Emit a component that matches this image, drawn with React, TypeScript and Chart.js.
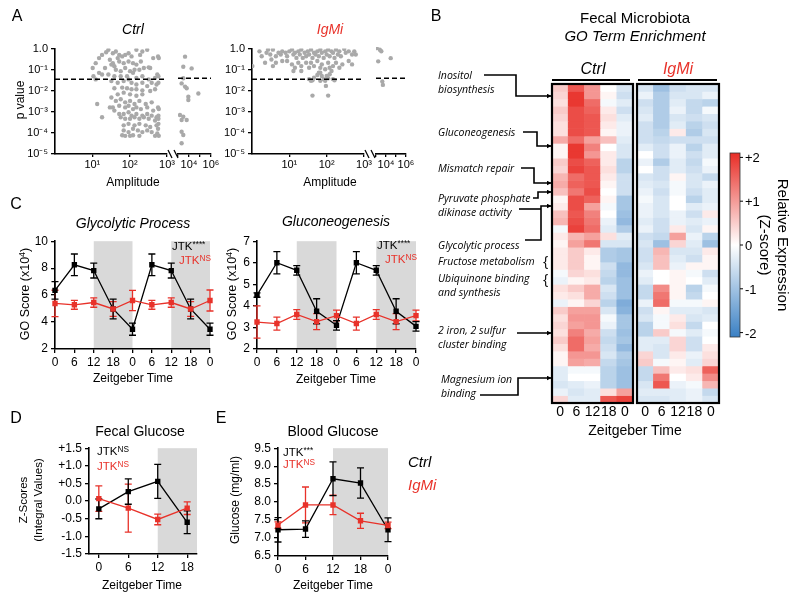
import React, { useEffect, useRef } from 'react';
import { Chart, registerables } from 'chart.js';

Chart.register(...registerables);

const FONT = '"Liberation Sans", Arial, Helvetica, sans-serif';
const ANNOT_FONT = '"Open Sans", "DejaVu Sans", sans-serif';
const RED = '#e8322a';
const BLACK = '#000000';
const DOT = '#a9a9a9';
const SHADE = '#d9d9d9';

// ---------------- Panel A: JTK amplitude vs p value (log10 units) ----------------
const pThreshold = 0.035;
const ampTicksL = [10, 100, 1000];
const ampLabelsL = ['10¹', '10²', '10³'];
const ampTicksR = [1e3, 1e4, 1e5, 1e6];
const ampLabelsR = ['', '10⁴', '', '10⁶'];
const pTicks = [1e-5, 1e-4, 1e-3, 1e-2, 1e-1, 1];
const pLabels = ['10⁻⁵', '10⁻⁴', '10⁻³', '10⁻²', '10⁻¹', '1.0'];

// [log10 amplitude, log10 p]
const ctrlPts: number[][] = [
  [1.37,-0.17],[1.43,-0.06],[1.55,-0.22],[1.63,-0.14],[1.72,-0.30],[1.68,-0.45],[1.80,-0.37],[1.88,-0.30],[1.97,-0.22],[2.05,-0.37],
  [2.18,-0.06],[2.28,-0.30],[2.34,-0.14],[2.47,-0.06],[2.63,-0.45],[2.76,-0.37],[2.78,-0.45],[1.26,-0.30],[1.18,-0.45],[1.09,-0.69],
  [1.47,-0.53],[1.55,-0.69],[1.59,-0.84],[1.72,-0.61],[1.84,-0.69],[1.97,-0.61],[2.09,-0.69],[2.18,-0.76],[2.30,-0.61],[2.38,-0.92],
  [2.51,-0.89],[2.55,-0.92],[3.64,-0.45],[3.48,-0.92],[4.24,-1.00],[1.01,-0.92],[1.34,-0.92],[1.51,-0.76],[1.63,-1.00],[1.76,-1.07],
  [1.88,-0.92],[2.01,-1.07],[2.13,-1.00],[2.26,-1.00],[1.18,-1.15],[1.26,-1.23],[1.43,-1.23],[1.59,-1.31],[1.76,-1.31],[1.93,-1.31],
  [2.09,-1.15],[2.18,-1.39],[2.34,-1.31],[2.51,-1.46],[2.68,-1.39],[2.77,-1.31],[2.74,-1.23],[1.09,-1.46],[3.48,-1.46],[1.03,-1.31],
  [1.51,-1.54],[1.68,-1.62],[1.84,-1.54],[1.97,-1.46],[2.05,-1.62],[2.18,-1.70],[2.34,-1.62],[2.47,-1.78],[2.59,-1.62],[2.72,-1.70],
  [2.77,-1.62],[3.64,-1.85],[3.79,-1.93],[3.33,-1.70],[1.59,-1.88],[1.80,-1.85],[1.93,-1.88],[2.05,-1.93],[2.18,-1.93],[2.34,-1.98],
  [2.55,-2.01],[2.68,-1.93],[1.68,-2.17],[1.84,-2.09],[2.01,-2.17],[2.18,-2.24],[2.34,-2.17],[4.85,-2.17],[3.94,-2.32],
  [1.51,-2.32],[1.63,-2.48],[1.76,-2.40],[1.88,-2.55],[2.01,-2.48],[2.13,-2.63],[2.26,-2.48],[2.43,-2.63],[2.59,-2.55],[1.55,-2.79],
  [1.72,-2.71],[1.88,-2.79],[1.97,-2.71],[2.09,-2.87],[2.18,-2.79],[2.30,-2.87],[2.47,-2.79],[2.63,-2.94],[2.76,-2.79],[1.13,-2.63],
  [1.47,-2.79],[1.26,-3.26],[1.59,-2.94],[1.72,-3.10],[1.84,-3.10],[1.97,-3.02],[2.05,-3.18],[2.18,-3.10],[2.34,-3.18],[2.47,-3.10],
  [2.59,-3.18],[2.72,-3.26],[2.77,-3.18],[3.18,-3.18],[3.48,-3.26],[3.94,-2.48],[2.78,-2.87],
  [1.76,-3.26],[1.88,-3.33],[2.01,-3.33],[2.13,-3.26],[2.26,-3.33],[2.38,-3.26],[2.51,-3.33],[2.68,-3.41],[2.77,-3.33],[1.84,-3.64],
  [1.97,-3.57],[2.13,-3.64],[2.26,-3.57],[2.43,-3.64],[2.55,-3.72],[2.72,-3.64],[2.77,-3.57],[3.33,-3.41],[3.79,-3.41],[1.84,-3.88],
  [1.97,-3.96],[2.09,-3.80],[2.22,-3.88],[2.34,-3.96],[2.47,-3.88],[2.59,-3.96],[2.76,-3.80],[3.33,-3.96],[3.48,-4.11],[1.80,-4.11],
  [1.88,-4.14],[2.01,-4.14],[2.09,-4.11],[2.26,-4.14],[2.68,-4.14],[2.78,-4.14],[2.74,-4.03],[3.33,-4.50],
];

const igmiPts: number[][] = [
  [0.01,-0.83],[0.20,-0.13],[0.26,-0.36],[0.35,-0.67],[0.39,-0.20],[0.43,-0.05],[0.49,-0.28],[0.52,-0.52],[0.56,-0.05],[0.64,-0.36],
  [0.71,-0.20],[0.77,-0.28],[0.81,-0.13],[0.90,-0.20],[0.94,-0.36],[1.00,-0.13],[1.07,-0.05],[1.11,-0.28],[1.15,-0.20],[1.19,-0.44],
  [1.24,-0.13],[1.28,-0.28],[1.32,-0.05],[1.36,-0.44],[1.41,-0.20],[1.45,-0.36],[1.49,-0.13],[1.53,-0.28],[1.58,-0.05],[1.62,-0.44],
  [1.66,-0.20],[1.70,-0.28],[1.75,-0.13],[1.79,-0.36],[1.83,-0.05],[1.87,-0.20],[1.92,-0.44],[1.96,-0.13],[2.00,-0.28],[2.04,-0.05],
  [2.08,-0.36],[2.13,-0.13],[2.17,-0.20],[2.21,-0.44],[2.25,-0.05],[2.30,-0.28],[2.34,-0.13],[2.38,-0.36],[2.47,-0.02],[2.51,-0.20],
  [2.59,-0.13],[2.68,-0.28],[2.74,-0.13],[2.78,-0.28],[3.06,-0.05],[3.38,-0.13],[3.53,-0.20],[4.47,-0.52],[3.22,-0.67],
  [0.94,-0.59],[1.07,-0.75],[1.15,-0.91],[1.24,-0.67],[1.32,-0.83],[1.45,-0.67],[1.53,-0.91],[1.58,-0.67],[1.66,-0.83],[1.75,-0.59],
  [1.83,-0.91],[1.87,-0.75],[1.96,-0.98],[2.04,-0.67],[2.08,-0.91],[2.17,-0.83],[2.25,-0.67],[2.34,-0.91],[2.42,-0.75],[2.59,-0.59],
  [2.68,-0.75],[1.11,-1.06],[1.32,-1.06],[1.83,-1.14],[2.13,-1.06],[0.81,-0.59],[0.64,-0.67],[0.56,-0.83],
  [1.53,-1.45],[1.62,-1.50],[1.66,-1.38],[1.75,-1.25],[1.79,-1.14],[1.87,-1.30],[1.92,-1.45],[2.00,-1.30],[2.04,-1.41],[2.08,-1.22],
  [2.17,-1.45],[2.21,-1.50],[1.96,-1.53],[1.83,-1.53],[1.58,-1.53],
  [3.63,-1.61],[3.69,-1.77],[1.98,-1.77],[1.62,-2.23],[2.04,-2.23],
];

// ---------------- Panel B: heatmap (Z-scores) ----------------
const heatCols = ['0', '6', '12', '18', '0'];
const ctrlZ: number[][] = [
  [0.5,1.6,1.0,0.0,-0.4],[0.4,1.9,1.0,0.1,-0.5],[0.3,1.9,1.4,-0.1,-0.3],[0.5,1.7,1.5,0.2,-0.5],[0.4,1.7,1.6,0.3,-0.3],
  [0.3,1.7,1.6,0.2,-0.2],[0.3,1.7,1.6,0.1,-0.2],[0.8,1.4,0.9,0.6,-0.3],[0.1,1.9,1.2,0.0,-0.4],[0.1,1.9,1.0,0.2,-0.4],
  [0.5,1.7,1.5,0.2,-0.7],[0.4,1.8,1.6,0.3,-0.7],[0.7,1.4,1.6,0.2,-0.5],[0.8,1.5,1.6,0.1,-0.5],[0.6,1.3,1.7,0.0,-0.5],
  [0.1,1.7,1.5,0.1,-0.9],[0.2,1.7,0.9,-0.1,-0.9],[0.6,1.6,1.2,0.0,-1.0],[0.7,1.7,1.3,-0.2,-1.1],[-0.1,1.8,1.4,-0.3,-0.8],
  [0.2,0.7,0.9,0.3,-0.3],[0.1,0.9,1.3,-0.4,-0.4],[0.2,0.5,0.2,-0.8,-0.9],[0.2,0.5,0.1,-0.8,-0.9],[0.2,0.5,0.1,-0.5,-1.1],
  [-0.1,0.4,0.3,-0.6,-1.1],[-0.2,0.1,0.2,-0.7,-1.0],[0.3,0.5,0.8,-0.4,-1.0],[0.2,0.3,0.8,-0.5,-1.0],[-0.2,0.1,0.4,-0.7,-1.3],
  [0.5,0.9,0.9,-0.4,-1.2],[0.3,1.0,1.0,-0.1,-0.9],[0.4,0.9,1.0,-0.2,-0.9],[0.3,1.2,0.8,-0.5,-1.0],[0.5,1.4,0.9,-0.6,-0.9],
  [0.3,1.4,0.8,-0.5,-1.1],[0.1,1.0,1.0,-0.4,-0.8],[0.1,0.9,0.8,-0.6,-0.9],[-0.3,-0.1,-0.1,-0.7,-1.0],[-0.3,0.0,0.0,-0.7,-1.0],
  [-0.4,-0.3,-0.2,-0.7,-1.0],[-0.2,-0.4,-0.3,0.3,0.9],[0.4,-0.3,-0.3,1.6,1.8],
];
const igmiZ: number[][] = [
  [-0.4,-1.0,-0.5,-0.4,-0.4],[-0.2,-0.8,-0.4,-0.4,-0.2],[-0.5,-0.8,-0.3,-0.6,-0.7],[-0.4,-0.8,-0.2,-0.6,-0.1],[-0.3,-0.8,-0.4,-0.5,-0.4],
  [-0.5,-0.8,-0.3,-0.7,-0.5],[-0.5,-0.7,0.2,-0.8,-0.4],[-0.5,-0.6,-0.5,-0.5,-0.5],[-0.3,-0.5,-0.2,-0.7,-0.3],[0.0,-0.5,-0.2,-0.5,-0.3],
  [-0.2,-0.8,-0.3,-0.6,-0.1],[0.0,-0.5,-0.3,-0.5,-0.2],[-0.4,-0.5,0.1,-0.4,-0.6],[-0.3,-0.4,-0.1,-0.4,-0.2],[-0.2,-0.5,-0.1,-0.5,-0.3],
  [-0.1,-0.4,0.0,-0.7,-0.3],[-0.2,-0.4,0.0,-0.3,-0.2],[-0.2,-0.4,-0.2,-0.5,0.2],[-0.3,-0.5,-0.2,-0.3,-0.2],[-0.2,-0.5,0.2,-0.4,0.1],
  [-0.5,-0.6,0.9,-0.2,-0.7],[-0.4,-1.0,0.4,-0.3,-1.0],[-0.5,0.7,-0.4,-0.4,0.2],[-0.5,0.6,-0.3,-0.5,0.1],[-0.4,0.6,-0.2,0.1,0.1],
  [-0.2,0.0,0.1,-0.1,-0.5],[-0.3,0.0,0.1,0.0,-0.3],[-0.6,1.1,0.1,-0.7,-0.1],[-0.6,1.3,0.1,-0.6,0.0],[-0.2,1.4,-0.1,-0.1,0.1],
  [-0.5,0.1,-0.3,-0.3,-0.4],[-0.4,-0.1,0.2,-0.4,-0.3],[-0.7,-0.1,0.3,-0.6,0.0],[-0.7,0.5,-0.1,-0.3,-0.1],[-0.3,-0.3,0.4,-0.5,0.0],
  [-0.3,-0.4,0.4,-0.5,0.2],[0.4,-0.4,0.2,-0.2,0.3],[0.5,-0.1,0.1,-0.3,0.4],[-0.6,0.6,0.2,0.3,1.5],[-0.6,1.3,0.0,0.2,1.1],
  [-0.4,1.6,-0.2,-0.1,0.7],[-0.3,-0.3,-0.3,-0.2,-0.6],[-0.4,-0.4,-0.3,-0.2,-0.4],
];
const zTicks = ['+2', '+1', '0', '-1', '-2'];

// ---------------- Panel C: GO scores (x10^4) ----------------
const ztLabels = ['0', '6', '12', '18', '0', '6', '12', '18', '0'];
const ztNight = [[2, 4], [6, 8]];
const glyCtrl = [6.35, 8.25, 7.82, 4.97, 3.47, 8.25, 7.82, 4.97, 3.47];
const glyCtrlErr = [0.65, 0.8, 0.55, 0.73, 0.45, 0.8, 0.55, 0.73, 0.45];
const glyIgmi = [5.38, 5.28, 5.45, 4.97, 5.6, 5.28, 5.45, 4.97, 5.6];
const glyIgmiErr = [0.98, 0.33, 0.35, 0.55, 0.75, 0.33, 0.35, 0.55, 0.78];
const gluCtrl = [4.5, 6.0, 5.65, 3.75, 3.1, 6.0, 5.65, 3.75, 3.05];
const gluCtrlErr = [0.1, 0.52, 0.22, 0.58, 0.22, 0.52, 0.22, 0.58, 0.22];
const gluIgmi = [3.25, 3.18, 3.6, 3.27, 3.55, 3.18, 3.6, 3.27, 3.55];
const gluIgmiErr = [0.75, 0.3, 0.23, 0.37, 0.25, 0.3, 0.23, 0.37, 0.25];

// ---------------- Panel D: fecal glucose ----------------
const fecTimes = [0, 6, 12, 18];
const fecNight = [[12, 20]];
const fecCtrl = [-0.22, 0.27, 0.56, -0.6];
const fecCtrlErr = [0.28, 0.36, 0.48, 0.32];
const fecIgmi = [0.07, -0.2, -0.52, -0.2];
const fecIgmiErr = [0.36, 0.68, 0.15, 0.18];

// ---------------- Panel E: blood glucose ----------------
const bloodLabels = ['0', '6', '12', '18', '0'];
const bloodNight = [[2, 4]];
const bloodCtrl = [7.23, 7.25, 8.65, 8.53, 7.23];
const bloodCtrlErr = [0.34, 0.23, 0.47, 0.42, 0.33];
const bloodIgmi = [7.36, 7.92, 7.92, 7.48, 7.35];
const bloodIgmiErr = [0.09, 0.5, 0.27, 0.21, 0.09];

// ---------------- helpers ----------------
const toXY = (p: number[]) => ({ x: Math.pow(10, p[0]), y: Math.pow(10, p[1]) });
const AXIS_BREAK = 2.9;

const RED_RGB = [232, 45, 38];
const BLUE_RGB = [58, 128, 196];
function zColor(z: number) {
  const t = Math.max(-1, Math.min(1, z / 2));
  const hi = t >= 0 ? RED_RGB : BLUE_RGB;
  const a = Math.abs(t);
  const c = hi.map((h) => Math.round(255 + (h - 255) * a));
  return `rgb(${c[0]},${c[1]},${c[2]})`;
}

const errorBars = {
  id: 'errorBars',
  beforeDatasetsDraw(chart: any) {
    const ctx = chart.ctx;
    const yS = chart.scales.y;
    chart.data.datasets.forEach((ds: any, i: number) => {
      if (!ds.errors) return;
      const meta = chart.getDatasetMeta(i);
      ctx.save();
      ctx.strokeStyle = ds.borderColor;
      ctx.lineWidth = 1.3;
      meta.data.forEach((pt: any, j: number) => {
        const v = ds.data[j];
        const y = typeof v === 'number' ? v : v.y;
        const e = ds.errors[j];
        const y1 = yS.getPixelForValue(y + e);
        const y2 = yS.getPixelForValue(y - e);
        ctx.beginPath();
        ctx.moveTo(pt.x, y1); ctx.lineTo(pt.x, y2);
        ctx.moveTo(pt.x - 3.5, y1); ctx.lineTo(pt.x + 3.5, y1);
        ctx.moveTo(pt.x - 3.5, y2); ctx.lineTo(pt.x + 3.5, y2);
        ctx.stroke();
      });
      ctx.restore();
    });
  },
};

const shade = {
  id: 'shade',
  beforeDraw(chart: any, _a: any, opts: any) {
    if (!opts || !opts.ranges) return;
    const { ctx, chartArea: a } = chart;
    const x = chart.scales.x;
    ctx.save();
    ctx.fillStyle = SHADE;
    opts.ranges.forEach((r: number[]) => {
      const x1 = x.getPixelForValue(r[0]);
      const x2 = x.getPixelForValue(r[1]);
      ctx.fillRect(x1, a.top, x2 - x1, a.bottom - a.top);
    });
    ctx.restore();
  },
};

const threshold = {
  id: 'threshold',
  afterDatasetsDraw(chart: any, _a: any, opts: any) {
    if (!opts || opts.value == null) return;
    const { ctx, chartArea: a } = chart;
    const y = chart.scales.y.getPixelForValue(opts.value);
    ctx.save();
    ctx.strokeStyle = BLACK;
    ctx.lineWidth = 1.5;
    ctx.setLineDash([5, 3]);
    ctx.beginPath();
    ctx.moveTo(a.left, y);
    ctx.lineTo(a.right, y);
    ctx.stroke();
    ctx.restore();
  },
};

const frameBorder = {
  id: 'frameBorder',
  afterDraw(chart: any) {
    const { ctx, chartArea: a } = chart;
    ctx.save();
    ctx.strokeStyle = BLACK;
    ctx.lineWidth = 2.2;
    ctx.strokeRect(a.left, a.top, a.right - a.left, a.bottom - a.top);
    ctx.restore();
  },
};

type Box = { L: number; T: number; R: number; B: number; W: number; H: number; P?: number; Q?: number; Lp?: number };

function frame(b: Box) {
  const P = b.P ?? 8;
  const Q = b.Q ?? 10;
  const Lp = b.Lp ?? 0;
  const left = b.L - b.W - Lp;
  const top = b.T - P;
  return { left, top, width: b.R + Q - left, height: b.B + b.H - top, padding: { top: P, right: Q, left: Lp, bottom: 0 } };
}

function ChartCanvas({ box, make }: { box: Box; make: (pad: any) => any }) {
  const ref = useRef<HTMLCanvasElement>(null);
  const f = frame(box);
  useEffect(() => {
    const ch = new Chart(ref.current as HTMLCanvasElement, make(f.padding));
    return () => ch.destroy();
  }, []);
  return (
    <canvas
      ref={ref}
      width={f.width}
      height={f.height}
      style={{ position: 'absolute', left: f.left, top: f.top, width: f.width, height: f.height }}
    />
  );
}

const axisGrid = { drawOnChartArea: false, drawTicks: true, tickLength: 4, color: BLACK, lineWidth: 1.3 };
const axisBorder = { display: true, color: BLACK, width: 1.6 };
const baseOpts = (pad: any) => ({
  animation: false,
  responsive: false,
  maintainAspectRatio: false,
  events: [],
  layout: { padding: pad },
});

function scatterConfig(points: number[][], left: boolean, H: number, W: number) {
  return (pad: any) => ({
    type: 'scatter',
    data: {
      datasets: [{ data: points.map(toXY), pointRadius: 2.2, pointBackgroundColor: DOT, pointBorderWidth: 0, pointHoverRadius: 2.2 }],
    },
    options: {
      ...baseOpts(pad),
      plugins: { legend: { display: false }, tooltip: { enabled: false }, threshold: { value: pThreshold } },
      scales: {
        x: {
          type: 'logarithmic',
          min: left ? 1 : 1e3,
          max: left ? 1e3 : 1e6,
          afterBuildTicks: (s: any) => { s.ticks = (left ? ampTicksL : ampTicksR).map((v) => ({ value: v })); },
          ticks: { autoSkip: false, maxRotation: 0, color: BLACK, font: { family: FONT, size: 11 }, padding: 1,
            callback: (_v: any, i: number) => (left ? ampLabelsL : ampLabelsR)[i] },
          grid: { ...axisGrid, tickLength: 3 },
          border: axisBorder,
          afterFit: (s: any) => { s.height = H; },
        },
        y: {
          type: 'logarithmic',
          display: left,
          min: 1e-5,
          max: 1,
          afterBuildTicks: (s: any) => { s.ticks = pTicks.map((v) => ({ value: v })); },
          ticks: { autoSkip: false, color: BLACK, font: { family: FONT, size: 11 }, padding: 3,
            callback: (_v: any, i: number) => pLabels[i] },
          grid: axisGrid,
          border: axisBorder,
          afterFit: (s: any) => { s.width = W; },
        },
      },
    },
    plugins: [threshold],
  });
}

function lineDatasets(ctrl: any[], ctrlErr: number[], igmi: any[], igmiErr: number[]) {
  const common = { pointStyle: 'rect', pointRadius: 3.8, pointHoverRadius: 3.8, pointBorderWidth: 0, borderWidth: 1.3, tension: 0 };
  return [
    { ...common, label: 'IgMi', data: igmi, errors: igmiErr, borderColor: RED, backgroundColor: RED, pointBackgroundColor: RED },
    { ...common, label: 'Ctrl', data: ctrl, errors: ctrlErr, borderColor: BLACK, backgroundColor: BLACK, pointBackgroundColor: BLACK },
  ];
}

function timeConfig(opts: {
  labels?: string[]; datasets: any[]; night: number[][]; yMin: number; yMax: number; yStep: number;
  yFmt?: (v: number) => string; W: number; H: number; linearX?: { min: number; max: number; ticks: number[] };
}) {
  return (pad: any) => ({
    type: 'line',
    data: { labels: opts.labels, datasets: opts.datasets },
    options: {
      ...baseOpts(pad),
      plugins: { legend: { display: false }, tooltip: { enabled: false }, shade: { ranges: opts.night } },
      scales: {
        x: opts.linearX
          ? {
              type: 'linear', min: opts.linearX.min, max: opts.linearX.max,
              afterBuildTicks: (s: any) => { s.ticks = opts.linearX!.ticks.map((v) => ({ value: v })); },
              ticks: { autoSkip: false, maxRotation: 0, color: BLACK, font: { family: FONT, size: 12 }, padding: 2 },
              grid: axisGrid, border: axisBorder,
              afterFit: (s: any) => { s.height = opts.H; },
            }
          : {
              type: 'category', offset: false,
              ticks: { autoSkip: false, maxRotation: 0, color: BLACK, font: { family: FONT, size: 12 }, padding: 2 },
              grid: axisGrid, border: axisBorder,
              afterFit: (s: any) => { s.height = opts.H; },
            },
        y: {
          type: 'linear', min: opts.yMin, max: opts.yMax,
          ticks: { stepSize: opts.yStep, color: BLACK, font: { family: FONT, size: 12 }, padding: 3,
            callback: (v: any) => (opts.yFmt ? opts.yFmt(Number(v)) : String(v)) },
          grid: axisGrid, border: axisBorder,
          afterFit: (s: any) => { s.width = opts.W; },
        },
      },
    },
    plugins: [shade, errorBars],
  });
}

function heatConfig(matrix: number[][], H: number) {
  return (pad: any) => ({
    type: 'bar',
    data: {
      labels: heatCols,
      datasets: matrix.map((row) => ({
        data: row.map(() => 1),
        backgroundColor: row.map(zColor),
        borderWidth: 0,
        barPercentage: 1,
        categoryPercentage: 1,
      })),
    },
    options: {
      ...baseOpts(pad),
      plugins: { legend: { display: false }, tooltip: { enabled: false } },
      scales: {
        x: {
          stacked: true,
          grid: { display: false, drawTicks: false, tickLength: 0 },
          border: { display: false },
          ticks: { autoSkip: false, maxRotation: 0, color: BLACK, font: { family: FONT, size: 14 }, padding: 1 },
          afterFit: (s: any) => { s.height = H; },
        },
        y: { stacked: true, reverse: true, min: 0, max: matrix.length, display: false },
      },
    },
    plugins: [frameBorder],
  });
}

// ---------------- text helpers ----------------
type TxtProps = {
  x: number; y: number; children: React.ReactNode; size?: number; italic?: boolean; color?: string;
  rot?: number; anchor?: 'center' | 'left' | 'right'; family?: string;
};
function Txt({ x, y, children, size = 12, italic = false, color = BLACK, rot = 0, anchor = 'center', family = FONT }: TxtProps) {
  const tx = anchor === 'center' ? '-50%' : anchor === 'left' ? '0' : '-100%';
  return (
    <div
      style={{
        position: 'absolute', left: x, top: y, whiteSpace: 'nowrap', lineHeight: 1, fontFamily: family,
        fontSize: size, fontStyle: italic ? 'italic' : 'normal', color,
        transform: `translate(${tx},-50%)${rot ? ` rotate(${rot}deg)` : ''}`,
      }}
    >
      {children}
    </div>
  );
}

const supStyle: React.CSSProperties = { fontSize: '0.72em', verticalAlign: '0.45em', lineHeight: 0 };
const Jtk = ({ sup }: { sup: string }) => (
  <span>JTK<span style={supStyle}>{sup}</span></span>
);

// ---------------- boxes (chart areas) ----------------
const boxACtrlL: Box = { L: 55, T: 47, R: 167, B: 154, W: 45, H: 22, Q: 10 };
const boxACtrlR: Box = { L: 178, T: 47, R: 211, B: 154, W: 0, H: 22, Lp: 4 };
const boxAIgmiL: Box = { L: 252, T: 47, R: 364, B: 154, W: 45, H: 22, Q: 10 };
const boxAIgmiR: Box = { L: 376, T: 47, R: 406, B: 154, W: 0, H: 22, Lp: 4 };
const boxC1: Box = { L: 55, T: 239, R: 210, B: 349, W: 40, H: 24 };
const boxC2: Box = { L: 257, T: 239, R: 416, B: 349, W: 40, H: 24 };
const boxD: Box = { L: 89, T: 446, R: 197, B: 554, W: 50, H: 24 };
const boxE: Box = { L: 278, T: 446, R: 388, B: 556, W: 40, H: 24 };
const boxHC: Box = { L: 552, T: 84, R: 633, B: 403, W: 0, H: 20, P: 3, Q: 3, Lp: 3 };
const boxHI: Box = { L: 637, T: 84, R: 719, B: 403, W: 0, H: 20, P: 3, Q: 3, Lp: 3 };

export default function App() {
  const ctrlLeft = ctrlPts.filter((p) => p[0] < AXIS_BREAK);
  const ctrlRight = ctrlPts.filter((p) => p[0] >= AXIS_BREAK);
  const igmiLeft = igmiPts.filter((p) => p[0] < AXIS_BREAK);
  const igmiRight = igmiPts.filter((p) => p[0] >= AXIS_BREAK);

  const annot = (x: number, y: number, s: string) => (
    <Txt x={x} y={y} size={10.5} italic anchor="left" family={ANNOT_FONT}>{s}</Txt>
  );

  return (
    <div style={{ position: 'absolute', left: 0, top: 0, width: 800, height: 601, background: '#fff', overflow: 'hidden' }}>
      {/* Panel A */}
      <ChartCanvas box={boxACtrlL} make={scatterConfig(ctrlLeft, true, 22, 45)} />
      <ChartCanvas box={boxACtrlR} make={scatterConfig(ctrlRight, false, 22, 0)} />
      <ChartCanvas box={boxAIgmiL} make={scatterConfig(igmiLeft, true, 22, 45)} />
      <ChartCanvas box={boxAIgmiR} make={scatterConfig(igmiRight, false, 22, 0)} />

      {/* Panel C */}
      <ChartCanvas box={boxC1} make={timeConfig({ labels: ztLabels, datasets: lineDatasets(glyCtrl, glyCtrlErr, glyIgmi, glyIgmiErr), night: ztNight, yMin: 2, yMax: 10, yStep: 2, W: 40, H: 24 })} />
      <ChartCanvas box={boxC2} make={timeConfig({ labels: ztLabels, datasets: lineDatasets(gluCtrl, gluCtrlErr, gluIgmi, gluIgmiErr), night: ztNight, yMin: 2, yMax: 7, yStep: 1, W: 40, H: 24 })} />

      {/* Panel D */}
      <ChartCanvas
        box={boxD}
        make={timeConfig({
          datasets: lineDatasets(
            fecTimes.map((t, i) => ({ x: t, y: fecCtrl[i] })), fecCtrlErr,
            fecTimes.map((t, i) => ({ x: t, y: fecIgmi[i] })), fecIgmiErr),
          night: fecNight, yMin: -1.5, yMax: 1.5, yStep: 0.5,
          yFmt: (v) => (v > 0 ? '+' + v.toFixed(1) : v.toFixed(1)), W: 50, H: 24,
          linearX: { min: -2, max: 20, ticks: fecTimes },
        })}
      />

      {/* Panel E */}
      <ChartCanvas box={boxE} make={timeConfig({ labels: bloodLabels, datasets: lineDatasets(bloodCtrl, bloodCtrlErr, bloodIgmi, bloodIgmiErr), night: bloodNight, yMin: 6.5, yMax: 9.5, yStep: 0.5, yFmt: (v) => v.toFixed(1), W: 40, H: 24 })} />

      {/* Panel B heatmaps */}
      <ChartCanvas box={boxHC} make={heatConfig(ctrlZ, 20)} />
      <ChartCanvas box={boxHI} make={heatConfig(igmiZ, 20)} />

      {/* overlay graphics */}
      <svg width={800} height={601} style={{ position: 'absolute', left: 0, top: 0, pointerEvents: 'none' }}>
        <defs>
          <marker id="ah" viewBox="0 0 10 10" refX="9" refY="5" markerWidth="5" markerHeight="5" orient="auto" markerUnits="userSpaceOnUse">
            <path d="M0,0 L10,5 L0,10 z" fill="#000" />
          </marker>
          <linearGradient id="zgrad" x1="0" y1="0" x2="0" y2="1">
            <stop offset="0%" stopColor={`rgb(${RED_RGB.join(',')})`} />
            <stop offset="50%" stopColor="#ffffff" />
            <stop offset="100%" stopColor={`rgb(${BLUE_RGB.join(',')})`} />
          </linearGradient>
        </defs>
        {/* axis breaks */}
        <g stroke="#000" strokeWidth={1.3}>
          <line x1={168} y1={150} x2={172} y2={158} />
          <line x1={174} y1={150} x2={178} y2={158} />
          <line x1={365} y1={150} x2={369} y2={158} />
          <line x1={371} y1={150} x2={375} y2={158} />
        </g>
        {/* heatmap group underlines */}
        <line x1={552} y1={80} x2={630} y2={80} stroke="#000" strokeWidth={1.8} />
        <line x1={638} y1={80} x2={717} y2={80} stroke="#000" strokeWidth={1.8} />
        {/* annotation arrows */}
        <g stroke="#000" strokeWidth={1.6} fill="none" markerEnd="url(#ah)">
          <polyline points="484,75 516,75 516,96 551,96" />
          <polyline points="523,132 537,132 537,146 551,146" />
          <polyline points="521,168 534,168 534,183 551,183" />
          <polyline points="533,198 538,198 538,192 551,192" />
          <polyline points="525,240 541,240 541,206 551,206" />
          <polyline points="517,333 551,333" />
          <polyline points="480,395 518,395 518,378 551,378" />
        </g>
        <line x1={519} y1={209} x2={541} y2={209} stroke="#000" strokeWidth={1.6} />
        {/* color bar */}
        <rect x={730} y={153} width={10} height={184} fill="url(#zgrad)" stroke="#333" strokeWidth={0.8} />
        <g stroke="#000" strokeWidth={1}>
          {zTicks.map((_, i) => (
            <line key={i} x1={740} y1={157.4 + i * 43.8} x2={743} y2={157.4 + i * 43.8} />
          ))}
        </g>
      </svg>

      {/* Panel letters */}
      <Txt x={17} y={16} size={16}>A</Txt>
      <Txt x={436} y={16} size={16}>B</Txt>
      <Txt x={16} y={204} size={16}>C</Txt>
      <Txt x={16} y={418} size={16}>D</Txt>
      <Txt x={221} y={418} size={16}>E</Txt>

      {/* Panel A text */}
      <Txt x={133} y={29} size={14} italic>Ctrl</Txt>
      <Txt x={330} y={29} size={14} italic color={RED}>IgMi</Txt>
      <Txt x={20} y={100} size={12} rot={-90}>p value</Txt>
      <Txt x={133} y={182} size={12}>Amplitude</Txt>
      <Txt x={330} y={182} size={12}>Amplitude</Txt>

      {/* Panel C text */}
      <Txt x={133} y={223} size={14} italic>Glycolytic Process</Txt>
      <Txt x={336} y={221} size={14} italic>Gluconeogenesis</Txt>
      <Txt x={25} y={294} size={12.5} rot={-90}>GO Score (x10<span style={supStyle}>4</span>)</Txt>
      <Txt x={232} y={294} size={12.5} rot={-90}>GO Score (x10<span style={supStyle}>4</span>)</Txt>
      <Txt x={133} y={378} size={12}>Zeitgeber Time</Txt>
      <Txt x={336} y={379} size={12}>Zeitgeber Time</Txt>
      <Txt x={172} y={247} size={11.5} anchor="left"><Jtk sup="****" /></Txt>
      <Txt x={179} y={261} size={11.5} anchor="left" color={RED}><Jtk sup="NS" /></Txt>
      <Txt x={377} y={246} size={11.5} anchor="left"><Jtk sup="****" /></Txt>
      <Txt x={385} y={260} size={11.5} anchor="left" color={RED}><Jtk sup="NS" /></Txt>

      {/* Panel D text */}
      <Txt x={140} y={431} size={14}>Fecal Glucose</Txt>
      <Txt x={24} y={500} size={11.5} rot={-90}>Z-Scores</Txt>
      <Txt x={39} y={500} size={11.5} rot={-90}>(Integral Values)</Txt>
      <Txt x={97} y={452} size={11.5} anchor="left"><Jtk sup="NS" /></Txt>
      <Txt x={97} y={467} size={11.5} anchor="left" color={RED}><Jtk sup="NS" /></Txt>
      <Txt x={142} y={585} size={12}>Zeitgeber Time</Txt>

      {/* Panel E text */}
      <Txt x={333} y={431} size={14}>Blood Glucose</Txt>
      <Txt x={235} y={500} size={12} rot={-90}>Glucose (mg/ml)</Txt>
      <Txt x={283} y={453} size={11.5} anchor="left"><Jtk sup="***" /></Txt>
      <Txt x={283} y={465} size={11.5} anchor="left" color={RED}><Jtk sup="NS" /></Txt>
      <Txt x={333} y={585} size={12}>Zeitgeber Time</Txt>
      <Txt x={408} y={461} size={15} italic anchor="left">Ctrl</Txt>
      <Txt x={408} y={484} size={15} italic anchor="left" color={RED}>IgMi</Txt>

      {/* Panel B text */}
      <Txt x={635} y={17} size={15}>Fecal Microbiota</Txt>
      <Txt x={635} y={35} size={15} italic>GO Term Enrichment</Txt>
      <Txt x={593} y={69} size={16} italic>Ctrl</Txt>
      <Txt x={678} y={69} size={16} italic color={RED}>IgMi</Txt>
      <Txt x={635} y={430} size={14}>Zeitgeber Time</Txt>
      {zTicks.map((t, i) => (
        <Txt key={t} x={745} y={157.4 + i * 43.8} size={13} anchor="left">{t}</Txt>
      ))}
      <Txt x={783} y={245} size={15} rot={90}>Relative Expression</Txt>
      <Txt x={765} y={245} size={15} rot={90}>(Z-score)</Txt>

      {annot(438, 75, 'Inositol')}
      {annot(438, 89, 'biosynthesis')}
      {annot(438, 132, 'Gluconeogenesis')}
      {annot(438, 168, 'Mismatch repair')}
      {annot(438, 198, 'Pyruvate phosphate')}
      {annot(438, 212, 'dikinase activity')}
      {annot(438, 245, 'Glycolytic process')}
      {annot(438, 261, 'Fructose metabolism')}
      {annot(438, 278, 'Ubiquinone binding')}
      {annot(438, 292, 'and synthesis')}
      {annot(438, 330, '2 iron, 2 sulfur')}
      {annot(438, 344, 'cluster binding')}
      {annot(441, 379, 'Magnesium ion')}
      {annot(441, 393, 'binding')}
      <Txt x={543} y={261} size={14} anchor="left" family={ANNOT_FONT}>{'{'}</Txt>
      <Txt x={543} y={279} size={14} anchor="left" family={ANNOT_FONT}>{'{'}</Txt>
    </div>
  );
}
